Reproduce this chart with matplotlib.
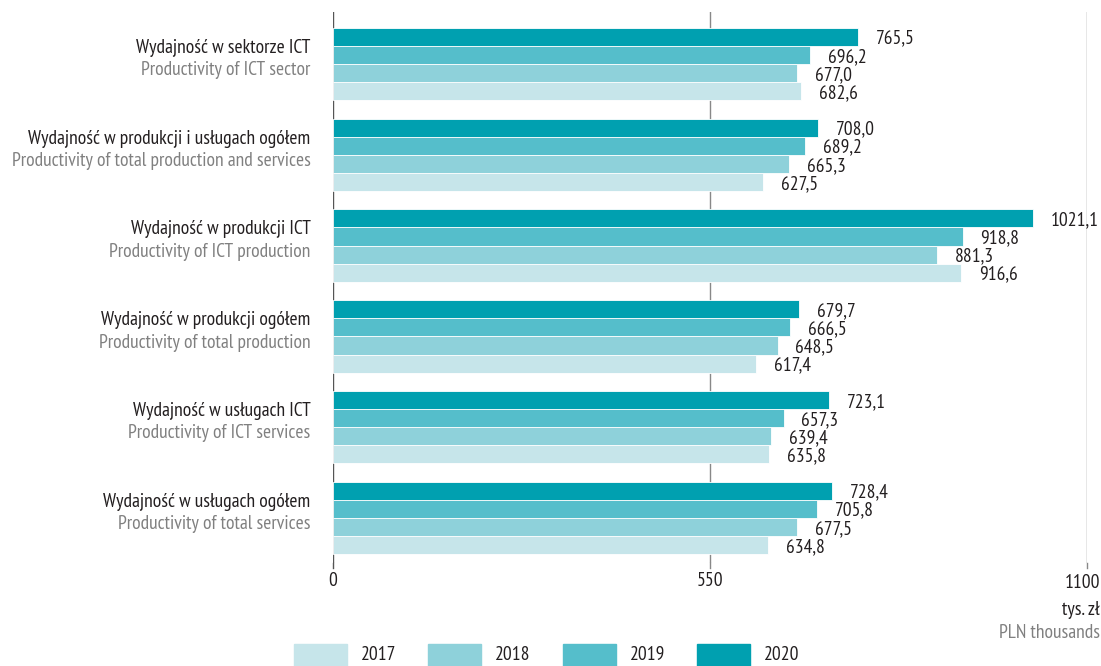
import numpy as np
import matplotlib.pyplot as plt
from matplotlib.patches import Rectangle

plt.rcParams['font.family'] = ['PT Sans Narrow', 'DejaVu Sans']

cats_pl = ["Wydajność w sektorze ICT",
           "Wydajność w produkcji i usługach ogółem",
           "Wydajność w produkcji ICT",
           "Wydajność w produkcji ogółem",
           "Wydajność w usługach ICT",
           "Wydajność w usługach ogółem"]
cats_en = ["Productivity of ICT sector",
           "Productivity of total production and services",
           "Productivity of ICT production",
           "Productivity of total production",
           "Productivity of ICT services",
           "Productivity of total services"]
years = ["2017", "2018", "2019", "2020"]
v2017 = [682.6, 627.5, 916.6, 617.4, 635.8, 634.8]
v2018 = [677.0, 665.3, 881.3, 648.5, 639.4, 677.5]
v2019 = [696.2, 689.2, 918.8, 666.5, 657.3, 705.8]
v2020 = [765.5, 708.0, 1021.1, 679.7, 723.1, 728.4]
colors = ["#C6E5EA", "#8ED1DA", "#55BECB", "#00A0B0"]

fig = plt.figure(figsize=(11.01, 6.66), dpi=100)
ax = fig.add_axes([333/1101, 1-563/666, (1087-333)/1101, (563-12)/666])

y = np.arange(len(cats_pl))
series = [v2017, v2018, v2019, v2020]
offsets = [0.3, 0.1, -0.1, -0.3]
for vals, off, c in zip(series, offsets, colors):
    ax.barh(y + off, vals, height=0.2, color=c, edgecolor="white", linewidth=0.6, zorder=2)
    for yi, v in zip(y, vals):
        ax.text(v + 26, yi + off + 0.02, f"{v:.1f}".replace(".", ","), va="center", ha="left",
                fontsize=14, color="#231F20")

ax.set_xlim(0, 1100)
ax.set_ylim(5.497, -0.574)
for s in ax.spines.values():
    s.set_visible(False)
ax.set_yticks([])
ax.set_xticks([])
for xv, col in [(0, "#555555"), (550, "#888888"), (1100, "#888888")]:
    ax.axvline(xv, color=col, lw=1.0, zorder=1)
    ax.plot([xv, xv], [5.497, 5.497 + 0.06], color=col, lw=1.0, clip_on=False)

ax.text(0, 5.497 + 0.2, "0", ha="center", va="center", fontsize=14, color="#231F20")
ax.text(550, 5.497 + 0.2, "550", ha="center", va="center", fontsize=14, color="#231F20")
fig.text(1100/1101, 1-583/666, "1100", ha="right", va="center", fontsize=14, color="#231F20")
fig.text(1100/1101, 1-610/666, "tys. zł", ha="right", va="center", fontsize=14, color="#231F20")
fig.text(1100/1101, 1-633/666, "PLN thousands", ha="right", va="center", fontsize=14, color="#808080")

for yi, pl, en in zip(y, cats_pl, cats_en):
    ax.text(-33, yi - 0.18, pl, ha="right", va="center", fontsize=14, color="#231F20")
    ax.text(-33, yi + 0.07, en, ha="right", va="center", fontsize=14, color="#808080")

# legend
lx = [294, 428, 563, 697]
for x0, c, yr in zip(lx, colors, years):
    fig.patches.append(Rectangle((x0/1101, 0), 53/1101, 22/666, transform=fig.transFigure,
                                 color=c, figure=fig))
    fig.text((x0 + 67)/1101, 1-655/666, yr, ha="left", va="center", fontsize=14, color="#231F20")

fig.savefig("out.png", dpi=100)
